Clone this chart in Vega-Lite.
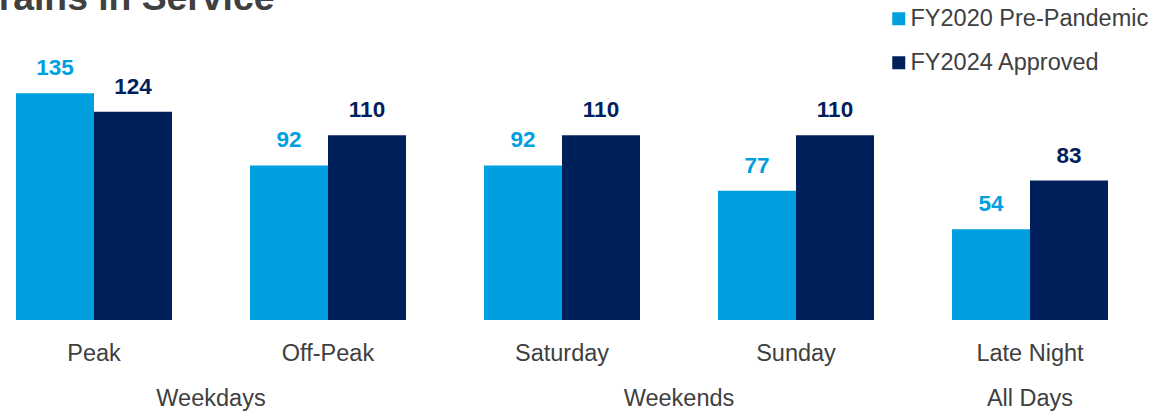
{
  "$schema": "https://vega.github.io/schema/vega-lite/v6.json",
  "autosize": {"type": "pad"},
  "padding": {"left": -22, "top": -21, "right": 0, "bottom": 0},
  "background": "white",
  "title": {"text": "Trains in Service", "anchor": "start", "frame": "group", "fontSize": 37.3, "font": "Liberation Sans", "fontWeight": "bold", "color": "#404040", "baseline": "alphabetic", "dx": -38, "offset": -40},
  "data": {"values": [
    {"group": "Weekdays", "category": "Peak", "series": "FY2020 Pre-Pandemic", "value": 135},
    {"group": "Weekdays", "category": "Peak", "series": "FY2024 Approved", "value": 124},
    {"group": "Weekdays", "category": "Off-Peak", "series": "FY2020 Pre-Pandemic", "value": 92},
    {"group": "Weekdays", "category": "Off-Peak", "series": "FY2024 Approved", "value": 110},
    {"group": "Weekends", "category": "Saturday", "series": "FY2020 Pre-Pandemic", "value": 92},
    {"group": "Weekends", "category": "Saturday", "series": "FY2024 Approved", "value": 110},
    {"group": "Weekends", "category": "Sunday", "series": "FY2020 Pre-Pandemic", "value": 77},
    {"group": "Weekends", "category": "Sunday", "series": "FY2024 Approved", "value": 110},
    {"group": "All Days", "category": "Late Night", "series": "FY2020 Pre-Pandemic", "value": 54},
    {"group": "All Days", "category": "Late Night", "series": "FY2024 Approved", "value": 83}
  ]},
  "facet": {
    "column": {
      "field": "group", "type": "nominal",
      "sort": ["Weekdays", "Weekends", "All Days"],
      "title": null,
      "header": {"labelOrient": "bottom", "labelFontSize": 23.5, "labelFont": "Liberation Sans", "labelColor": "#404040", "labelPadding": 22}
    }
  },
  "spacing": 78,
  "resolve": {"scale": {"x": "independent"}},
  "spec": {
    "width": {"step": 78},
    "height": 252,
    "encoding": {
      "x": {
        "field": "category", "type": "nominal",
        "sort": ["Peak", "Off-Peak", "Saturday", "Sunday", "Late Night"],
        "scale": {"paddingInner": 0.33333, "paddingOuter": 0},
        "axis": {"title": null, "labelAngle": 0, "domain": false, "ticks": false, "labelFontSize": 23.5, "labelFont": "Liberation Sans", "labelColor": "#404040", "labelPadding": 21}
      },
      "xOffset": {"field": "series", "type": "nominal", "sort": ["FY2020 Pre-Pandemic", "FY2024 Approved"]},
      "y": {"field": "value", "type": "quantitative", "scale": {"domain": [0, 150]}, "axis": null}
    },
    "layer": [
      {
        "mark": {"type": "bar"},
        "encoding": {
          "color": {
            "field": "series", "type": "nominal",
            "sort": ["FY2020 Pre-Pandemic", "FY2024 Approved"],
            "scale": {"domain": ["FY2020 Pre-Pandemic", "FY2024 Approved"], "range": ["#009FDF", "#00205B"]},
            "legend": {"orient": "none", "legendX": 871, "legendY": -61, "title": null, "padding": 0, "symbolType": "square", "symbolSize": 169, "symbolStrokeWidth": 0, "labelFontSize": 23.5, "labelFont": "Liberation Sans", "labelColor": "#404040", "labelLimit": 400, "rowPadding": 19, "labelOffset": 0}
          }
        }
      },
      {
        "mark": {"type": "text", "fontSize": 22.5, "font": "Liberation Sans", "fontWeight": "bold", "baseline": "bottom", "dy": -13},
        "encoding": {
          "text": {"field": "value", "type": "quantitative"},
          "color": {"field": "series", "type": "nominal", "legend": null}
        }
      }
    ]
  },
  "config": {"view": {"stroke": null}}
}
